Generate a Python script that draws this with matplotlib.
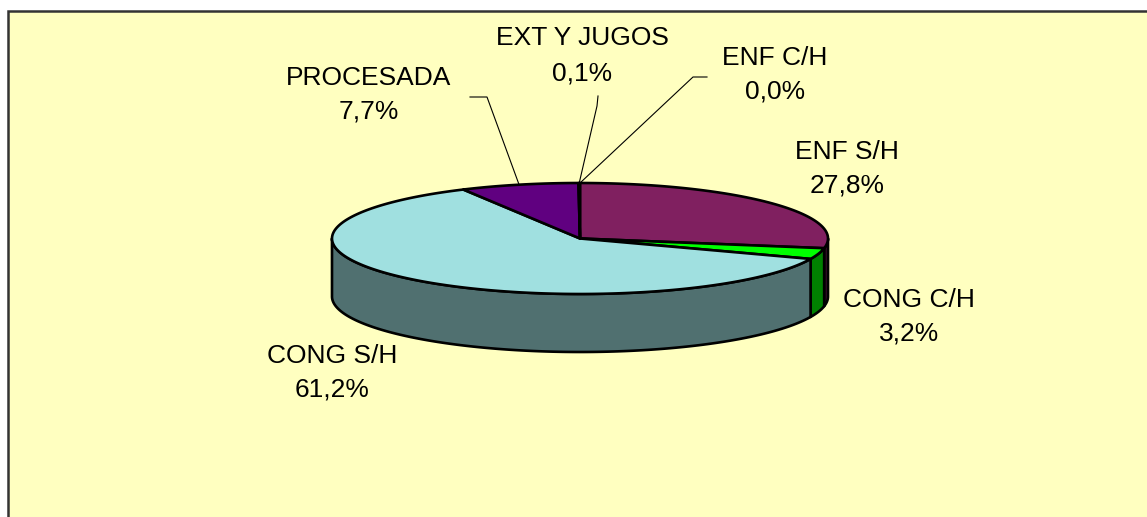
import numpy as np
import matplotlib
matplotlib.use("Agg")
from matplotlib import pyplot as plt
from matplotlib.patches import Polygon, Rectangle

#------------------------------------------------------------------------
#                           data
#------------------------------------------------------------------------
categories = ['ENF S/H', 'CONG C/H', 'CONG S/H', 'PROCESADA', 'EXT Y JUGOS', 'ENF C/H']
values = [27.8, 3.2, 61.2, 7.7, 0.1, 0.0]
topColors = ['#802060', '#00FF00', '#A0E0E0', '#600080', '#6A1A70', '#802060']
sideColors = ['#401030', '#008000', '#507070', '#300040', '#350D38', '#401030']

#------------------------------------------------------------------------
#                           layout (pixels)
#------------------------------------------------------------------------
W, H = 1147, 517
cx, cy = 580, 238.5
rx, ry = 248, 55.5
depth = 58

# label centres (x, y line1, y line2) and leader lines
labelPos = {
    'ENF S/H': (847, 152, 186),
    'CONG C/H': (909, 300, 333),
    'CONG S/H': (332, 356, 389),
    'PROCESADA': (369, 78, 112),
    'EXT Y JUGOS': (582, 38, 73),
    'ENF C/H': (775, 58, 92),
}
leaders = {
    'PROCESADA': [(470, 97), (487, 97)],
    'EXT Y JUGOS': [(598, 96), (597, 106)],
    'ENF C/H': [(707, 77), (693, 77)],
}

def pt(t, dy=0):
    t = np.radians(t)
    return cx + rx * np.cos(t), cy - ry * np.sin(t) + dy

def arc(t1, t2, dy=0, n=200):
    ts = np.linspace(t1, t2, n)
    return [pt(t, dy) for t in ts]

fig = plt.figure(figsize=(W / 100, H / 100), dpi=100)
fig.patch.set_facecolor('white')
ax = fig.add_axes([0, 0, 1, 1])
ax.set_xlim(0, W)
ax.set_ylim(H, 0)
ax.axis('off')

# chart area
ax.add_patch(Rectangle((8, 11), W + 20, H + 20, facecolor='#FFFFC0', edgecolor='#333333', lw=1.8, zorder=0))

# slice angles, clockwise from 12 o'clock
total = sum(values)
starts, ends = [], []
a = 90.0
for v in values:
    starts.append(a)
    a -= 360.0 * v / total
    ends.append(a)

# side walls (front half only: angles between -180 and 0)
for i, v in enumerate(values):
    if v <= 0:
        continue
    hi, lo = starts[i], ends[i]
    for shift in (0, -360, 360):
        h2, l2 = hi + shift, lo + shift
        a1, a2 = min(h2, 0), max(l2, -180)
        if a1 > a2:
            poly = arc(a1, a2) + arc(a2, a1, depth)
            ax.add_patch(Polygon(poly, closed=True, facecolor=sideColors[i], edgecolor='black', lw=1.9, joinstyle='round', zorder=2))

# top faces
for i, v in enumerate(values):
    if v <= 0:
        continue
    poly = [(cx, cy)] + arc(starts[i], ends[i])
    ax.add_patch(Polygon(poly, closed=True, facecolor=topColors[i], edgecolor='black', lw=1.9, joinstyle='round', zorder=3))

# labels
for i, name in enumerate(categories):
    x, y1, y2 = labelPos[name]
    pct = ('%.1f%%' % values[i]).replace('.', ',')
    ax.text(x, y1, name, ha='center', va='center', fontsize=19, family='Liberation Sans', zorder=5)
    ax.text(x, y2, pct, ha='center', va='center', fontsize=19, family='Liberation Sans', zorder=5)
    if name in leaders:
        mid = (starts[i] + ends[i]) / 2
        px, py = pt(mid)
        xs = [p[0] for p in leaders[name]] + [px]
        ys = [p[1] for p in leaders[name]] + [py]
        ax.plot(xs, ys, color='black', lw=0.8, zorder=4)

fig.savefig('out.png', dpi=100, facecolor='white')
